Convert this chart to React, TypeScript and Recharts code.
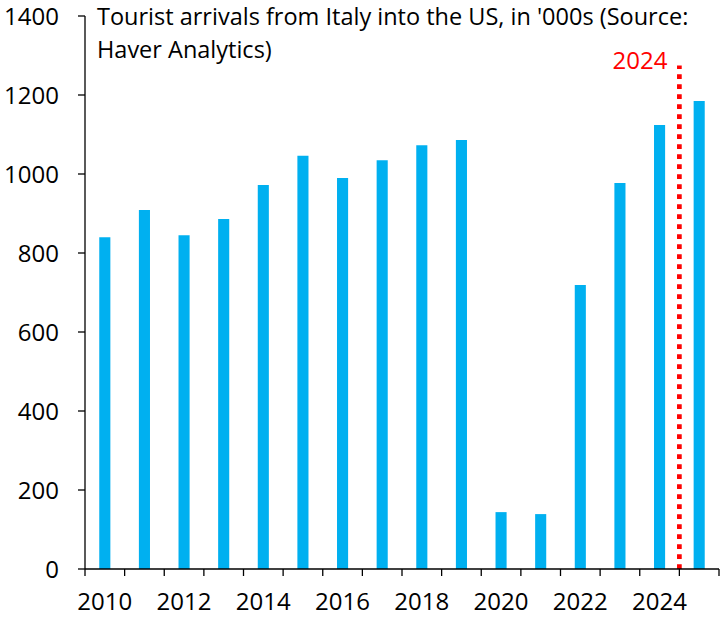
import React from "react";
import {
  BarChart,
  Bar,
  XAxis,
  YAxis,
  ReferenceLine,
} from "recharts";

const years = [
  2010, 2011, 2012, 2013, 2014, 2015, 2016, 2017, 2018, 2019, 2020, 2021,
  2022, 2023, 2024, 2025,
];
const arrivals = [
  840, 909, 845, 886, 972, 1046, 990, 1035, 1073, 1086, 144, 139, 719, 977,
  1124, 1185,
];
const yTicks = [0, 200, 400, 600, 800, 1000, 1200, 1400];
const markerYear = 2024;
const markerTop = 1275;
const titleLines = [
  "Tourist arrivals from Italy into the US, in '000s (Source:",
  "Haver Analytics)",
];

const data = years.map((year, i) => ({ year, arrivals: arrivals[i] }));

const W = 727;
const H = 617;
const LEFT = 85;
const RIGHT = 8;
const PLOT_W = W - LEFT - RIGHT;
const BAND = PLOT_W / years.length;
const FONT = "'Open Sans', sans-serif";

// category tick: boundary tick line on the left edge, label in the middle
function YearTick(props: any) {
  const { x, y, payload, index } = props;
  const isLast = index === years.length - 1;
  return (
    <g>
      <line x1={x - BAND / 2} x2={x - BAND / 2} y1={y} y2={y + 7} stroke="#000" strokeWidth={1.3} />
      {isLast && (
        <line x1={x + BAND / 2} x2={x + BAND / 2} y1={y} y2={y + 7} stroke="#000" strokeWidth={1.3} />
      )}
      {payload.value % 2 === 0 && (
        <text x={x} y={y + 41} textAnchor="middle" fontSize={24} fontFamily={FONT} fill="#000">
          {payload.value}
        </text>
      )}
    </g>
  );
}

// dotted marker drawn on the boundary after the marker year
function MarkerShape(props: any) {
  const { x1, y1, x2, y2 } = props;
  if (x1 == null) return null;
  const x = x1 + BAND / 2;
  const top = Math.min(y1, y2);
  return (
    <g>
      <line
        x1={x}
        x2={x2 + BAND / 2}
        y1={y1}
        y2={y2}
        stroke="#ff0000"
        strokeWidth={4.7}
        strokeDasharray="4.7 5.3"
      />
      <text x={x - 12} y={top + 4} textAnchor="end" fontSize={24} fontFamily={FONT} fill="#ff0000">
        {markerYear}
      </text>
    </g>
  );
}

export default function App() {
  return (
    <div style={{ position: "fixed", left: 0, top: 0, width: W, height: H, background: "#fff" }}>
      <BarChart
        width={W}
        height={H}
        data={data}
        margin={{ top: 16, right: RIGHT, bottom: 8, left: 0 }}
        barCategoryGap="64%"
      >
        <XAxis
          dataKey="year"
          interval={0}
          tickSize={0}
          tickMargin={0}
          tickLine={false}
          axisLine={{ stroke: "#000", strokeWidth: 1.3 }}
          tick={<YearTick />}
          height={40}
        />
        <YAxis
          domain={[0, 1400]}
          ticks={yTicks}
          width={LEFT}
          tickSize={7}
          tickMargin={19}
          axisLine={{ stroke: "#000", strokeWidth: 1.3 }}
          tickLine={{ stroke: "#000", strokeWidth: 1.3 }}
          tick={{ fill: "#000", fontSize: 24, fontFamily: FONT }}
        />
        <Bar dataKey="arrivals" fill="#00b0f0" isAnimationActive={false} />
        <ReferenceLine
          segment={[
            { x: markerYear, y: 0 },
            { x: markerYear, y: markerTop },
          ]}
          shape={<MarkerShape />}
          ifOverflow="visible"
        />
      </BarChart>
      <svg
        width={W}
        height={70}
        style={{ position: "absolute", left: 0, top: 0, pointerEvents: "none" }}
      >
        {titleLines.map((line, i) => (
          <text key={i} x={97} y={25 + i * 32.5} fontSize={23.5} fontFamily={FONT} fill="#000">
            {line}
          </text>
        ))}
      </svg>
    </div>
  );
}
